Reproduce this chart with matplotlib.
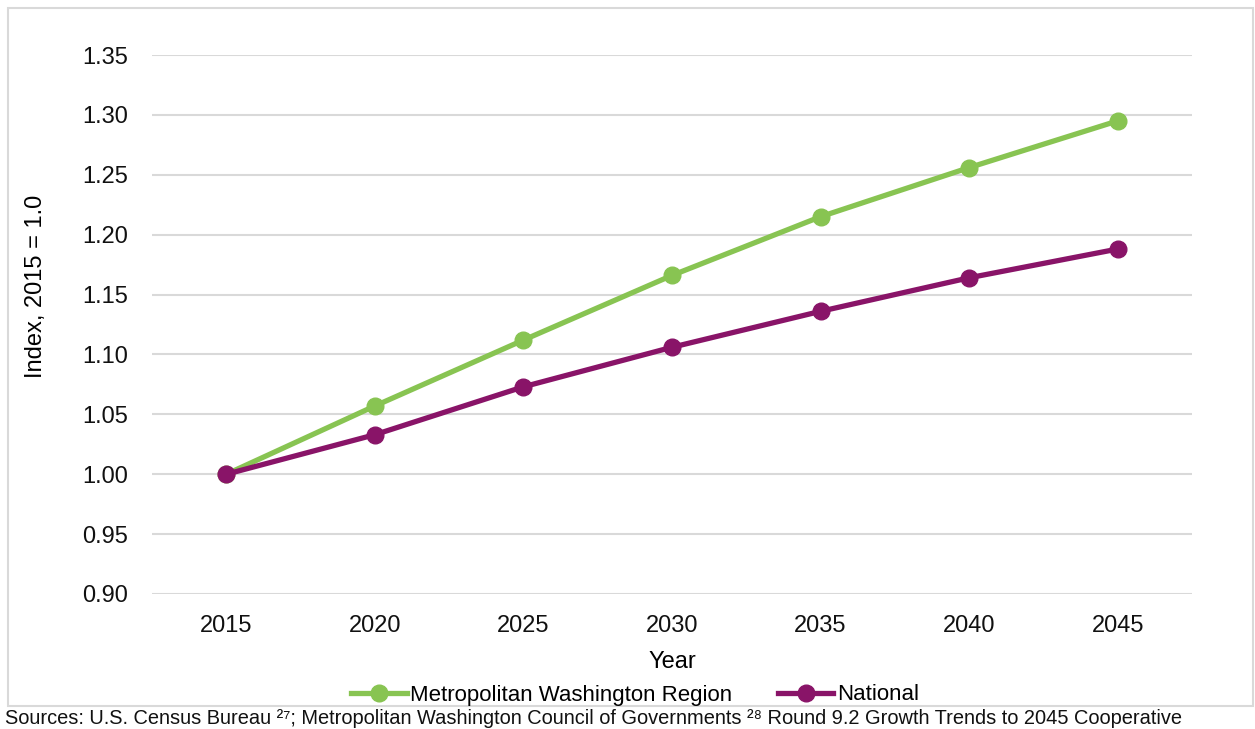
import matplotlib
matplotlib.use("Agg")
import matplotlib.pyplot as plt
from matplotlib.patches import Rectangle

plt.rcParams['font.family'] = ['Liberation Sans', 'DejaVu Sans']

# Population index, 2015 = 1.0
years = [2015, 2020, 2025, 2030, 2035, 2040, 2045]
metro = [1.000, 1.057, 1.112, 1.166, 1.215, 1.256, 1.295]
national = [1.000, 1.033, 1.073, 1.106, 1.136, 1.164, 1.188]
y_ticks = [0.90, 0.95, 1.00, 1.05, 1.10, 1.15, 1.20, 1.25, 1.30, 1.35]

green = '#88C452'
purple = '#891468'

W, H = 1255, 729
fig = plt.figure(figsize=(W / 100, H / 100), dpi=100)
ax = fig.add_axes([152 / W, 1 - 594 / H, (1192 - 152) / W, (594 - 55) / H])

ax.plot(years, metro, color=green, lw=3.8, marker='o', ms=12,
        label='Metropolitan Washington Region', zorder=3)
ax.plot(years, national, color=purple, lw=3.8, marker='o', ms=12,
        label='National', zorder=4)

ax.set_xlim(2012.5, 2047.5)
ax.set_ylim(0.90, 1.35)
ax.set_xticks(years)
ax.set_yticks(y_ticks)
ax.set_yticklabels([f'{v:.2f}' for v in y_ticks])
ax.tick_params(length=0, labelsize=17, colors='#111111')
ax.tick_params(axis='x', pad=15)
ax.tick_params(axis='y', pad=17)
ax.grid(axis='y', color='#D9D9D9', lw=1.5)
ax.set_axisbelow(True)
for s in ax.spines.values():
    s.set_visible(False)

ax.set_xlabel('Year', fontsize=17, labelpad=10)
ax.set_ylabel('Index, 2015 = 1.0', fontsize=17)
ax.yaxis.set_label_coords(-0.101, 0.57)

leg = fig.legend(loc='center', bbox_to_anchor=(635 / W, 1 - 695 / H), ncol=2,
                 frameon=False, fontsize=16, handlelength=2.5,
                 columnspacing=2.05, handletextpad=0.15)

# outer frame
fig.patches.append(Rectangle((8 / W, 1 - 706 / H), (W - 10) / W, (706 - 8) / H,
                             transform=fig.transFigure, fill=False,
                             edgecolor='#D9D9D9', lw=1.5))

fig.text(5 / W, 1 - 718 / H,
         'Sources: U.S. Census Bureau \u00b2\u2077; Metropolitan Washington Council of '
         'Governments \u00b2\u2078 Round 9.2 Growth Trends to 2045 Cooperative',
         fontsize=14.4, va='center', ha='left', color='#111111')

fig.savefig('out.png', dpi=100)
